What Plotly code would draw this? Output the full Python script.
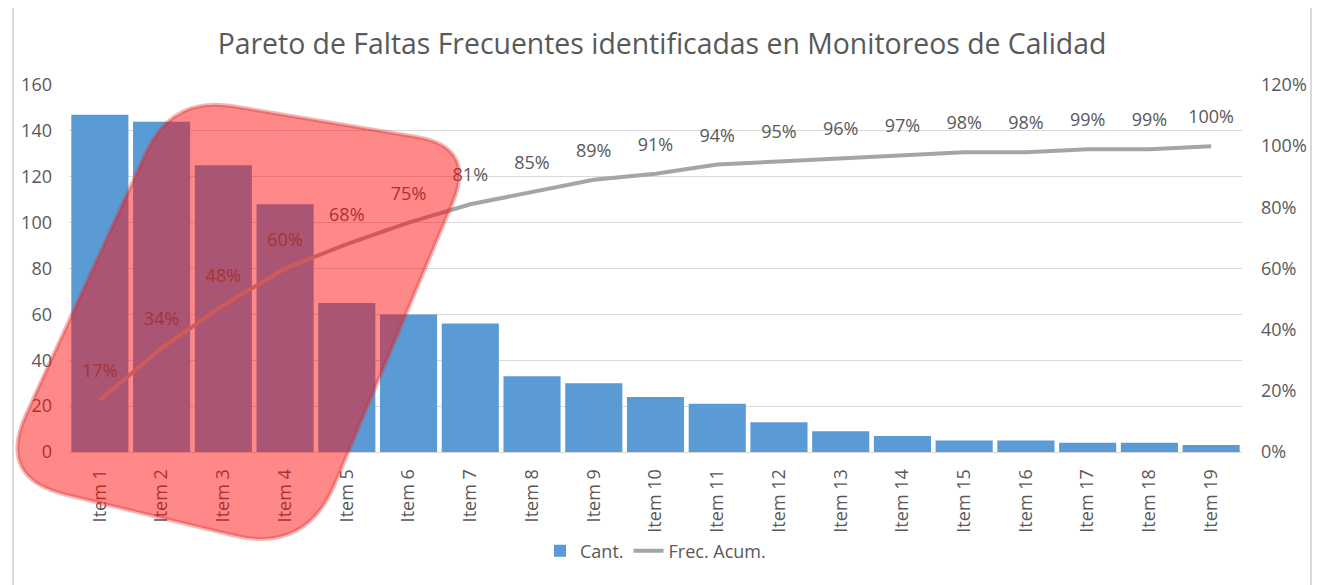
import math
import plotly.graph_objects as go

# ---- data ----
categories = ["Item %d" % i for i in range(1, 20)]
cant = [147, 144, 125, 108, 65, 60, 56, 33, 30, 24, 21, 13, 9, 7, 5, 5, 4, 4, 3]
frec_acum_pct = [17, 34, 48, 60, 68, 75, 81, 85, 89, 91, 94, 95, 96, 97, 98, 98, 99, 99, 100]
left_ticks = [0, 20, 40, 60, 80, 100, 120, 140, 160]
right_ticks = [0, 0.2, 0.4, 0.6, 0.8, 1.0, 1.2]

title_text = "Pareto de Faltas Frecuentes identificadas en Monitoreos de Calidad"

# page offset (default body margin) so figure is placed at (8,8) in the window
OFF = 8
W, H = 1325 - OFF, 585 - OFF
ML, MT = 69 - OFF, 85 - OFF
PW, PH = 1173, 367
MR = W - ML - PW
MB = H - MT - PH
PB = MT + PH

def px2paper(x, y):
    """screen pixel (as seen in the window) -> paper coords"""
    return ((x - OFF - ML) / PW, (PB - (y - OFF)) / PH)

FONT = "Open Sans"
TXT = "#595959"
GRID = "#D9D9D9"
FS = 18

fig = go.Figure()
fig.add_trace(go.Bar(
    x=categories, y=cant, name="Cant.",
    marker=dict(color="#5B9BD5", line=dict(width=0)),
    yaxis="y",
))
frac = [v / 100 for v in frec_acum_pct]
fig.add_trace(go.Scatter(
    x=categories, y=frac, name="Frec. Acum.", mode="lines",
    line=dict(color="#A5A5A5", width=4), yaxis="y2",
))
fig.add_trace(go.Scatter(
    x=categories, y=frac, mode="markers+text", showlegend=False,
    text=["%d%%" % v for v in frec_acum_pct], textposition="top center",
    textfont=dict(family=FONT, size=FS, color=TXT), cliponaxis=False,
    marker=dict(size=28, color="rgba(0,0,0,0)"), yaxis="y2", hoverinfo="skip",
))

# outer chart border
bx0, by1 = px2paper(13, 5)
bx1, by0 = px2paper(1311, 600)
shapes = [dict(type="rect", xref="paper", yref="paper", x0=bx0, x1=bx1, y0=by0, y1=by1,
               line=dict(color="#D9D9D9", width=2), layer="below")]

# highlighted rounded quadrilateral (screen pixel vertices, corner cut radii)
verts = [(172, 96), (476, 147), (306, 553), (-3, 478)]
radii = [62, 60, 75, 70]
def rounded_path(vs, rs):
    n = len(vs)
    pts = []
    for i in range(n):
        vx, vy = vs[i]
        px_, py_ = vs[i - 1]
        nx_, ny_ = vs[(i + 1) % n]
        d1 = math.hypot(px_ - vx, py_ - vy)
        d2 = math.hypot(nx_ - vx, ny_ - vy)
        r = rs[i]
        a = (vx + (px_ - vx) * r / d1, vy + (py_ - vy) * r / d1)
        b = (vx + (nx_ - vx) * r / d2, vy + (ny_ - vy) * r / d2)
        pts.append((a, (vx, vy), b))
    def P(p):
        x, y = px2paper(*p)
        return "%.5f,%.5f" % (x, y)
    s = "M " + P(pts[0][0])
    for i in range(n):
        a, v, b = pts[i]
        if i > 0:
            s += " L " + P(a)
        s += " Q " + P(v) + " " + P(b)
    s += " Z"
    return s

shapes.append(dict(type="path", xref="paper", yref="paper",
                   path=rounded_path(verts, radii),
                   fillcolor="rgba(255,8,8,0.48)",
                   line=dict(color="rgba(215,45,45,0.35)", width=4),
                   layer="above"))

title_x, _ = px2paper(662, 0)

fig.update_layout(
    width=W, height=H,
    margin=dict(l=ML, r=MR, t=MT, b=MB, autoexpand=False),
    paper_bgcolor="white", plot_bgcolor="white",
    title=dict(text=title_text, x=title_x, xanchor="center", xref="paper",
               y=1 - (44 - OFF) / H, yanchor="middle",
               font=dict(family=FONT, size=28.4, color=TXT)),
    bargap=0.075,
    font=dict(family=FONT, color=TXT, size=FS),
    xaxis=dict(tickangle=-90, tickfont=dict(family=FONT, size=FS, color=TXT),
               range=[-0.5, len(categories) - 0.5], automargin=False,
               showgrid=False, showline=True, linecolor=GRID, linewidth=1,
               ticks="", ticklabelstandoff=9),
    yaxis=dict(range=[0, 160], tickvals=left_ticks, showgrid=True, gridcolor=GRID,
               gridwidth=1, zeroline=False, showline=False, automargin=False,
               tickfont=dict(family=FONT, size=FS, color=TXT), ticklabelstandoff=16),
    yaxis2=dict(range=[0, 1.2], tickvals=right_ticks, tickformat=".0%", overlaying="y",
                side="right", showgrid=False, zeroline=False, showline=False,
                automargin=False,
                tickfont=dict(family=FONT, size=FS, color=TXT), ticklabelstandoff=18),
    legend=dict(orientation="h", x=0.5, xanchor="center", y=(PB - (551 - OFF)) / PH,
                yanchor="middle", font=dict(family=FONT, size=FS, color=TXT),
                bgcolor="rgba(0,0,0,0)"),
    shapes=shapes,
    showlegend=True,
)

fig.write_html("out.html")
